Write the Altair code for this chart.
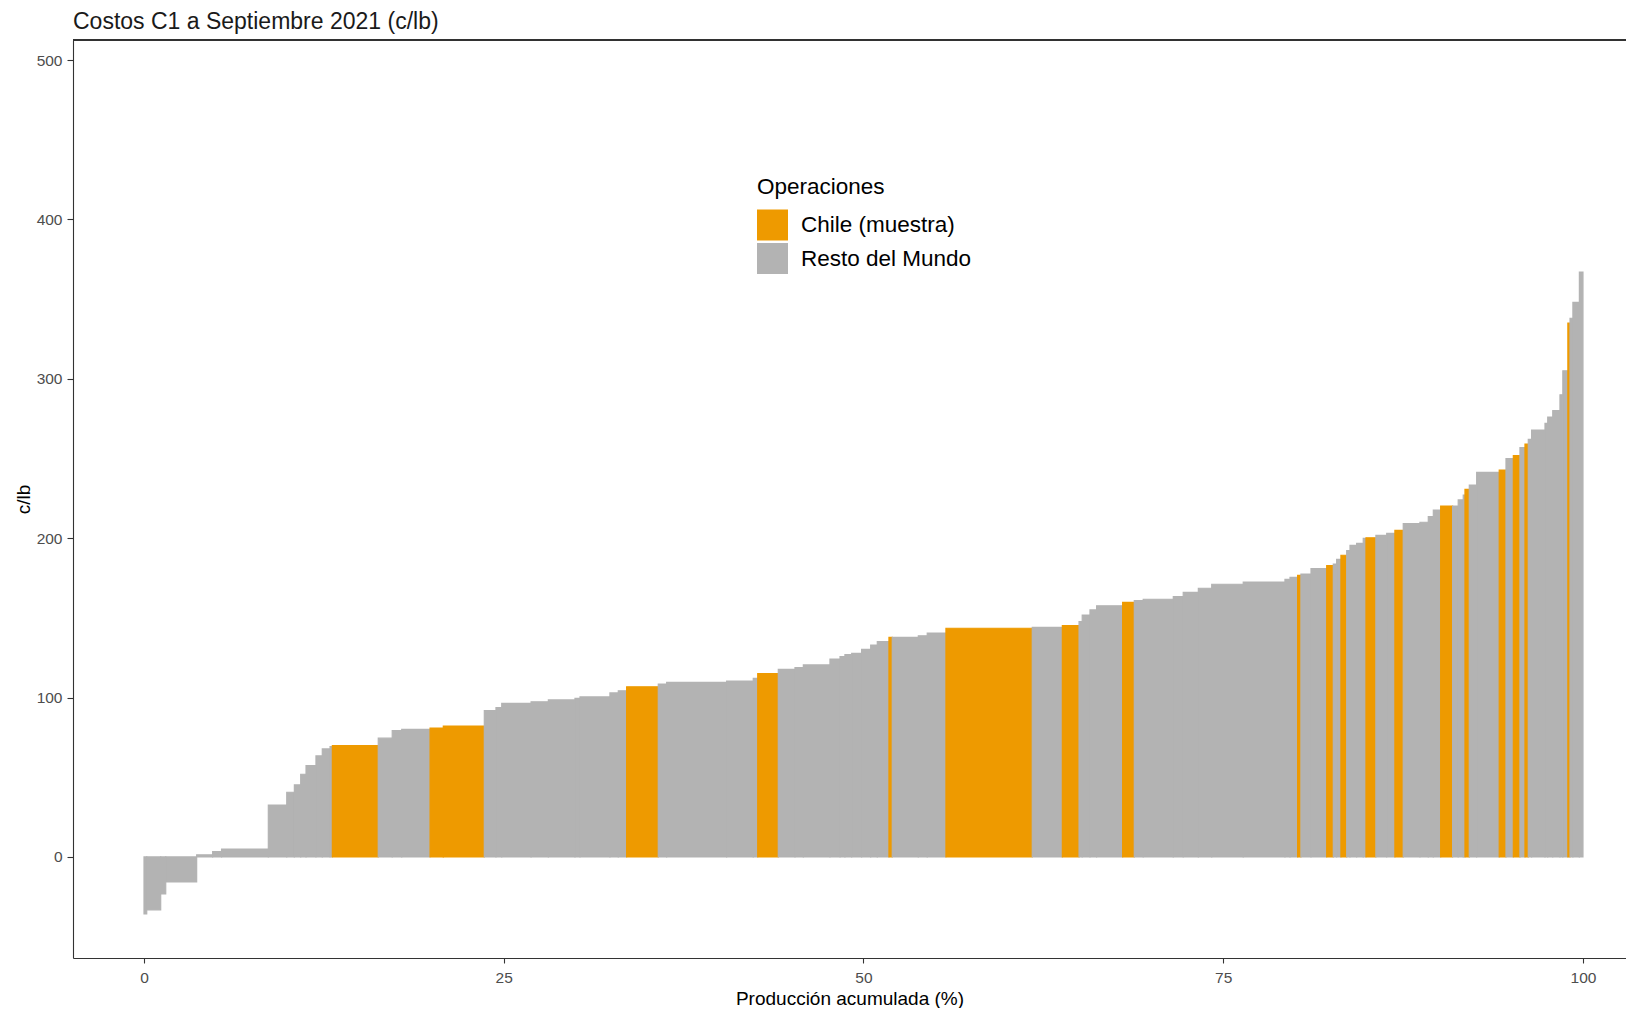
import altair as alt
import pandas as pd

# Cumulative production (%) at the right edge of each operation
cum_end = [0.19, 1.16, 1.51, 3.66, 4.77, 5.39, 8.64, 9.92, 10.45, 10.89,
           11.26, 11.95, 12.39, 12.93, 13.09, 16.28, 17.25, 17.91, 19.88, 20.8,
           23.65, 24.46, 24.86, 26.9, 28.1, 29.95, 30.3, 32.38, 32.96, 33.54,
           35.74, 36.32, 40.49, 42.34, 42.65, 44.08, 45.24, 45.82, 47.67, 48.37,
           48.71, 49.18, 49.87, 50.5, 50.96, 51.77, 52.0, 53.81, 54.43, 55.73,
           61.73, 63.82, 64.98, 65.2, 65.74, 66.2, 68.01, 68.82, 69.44, 71.53,
           72.22, 73.27, 74.2, 76.39, 79.29, 79.64, 80.17, 80.4, 81.1, 82.19,
           82.65, 82.88, 83.18, 83.58, 83.81, 84.27, 84.73, 84.92, 85.61, 86.36,
           86.93, 87.51, 88.67, 89.25, 89.6, 90.11, 90.94, 91.33, 91.68, 91.8,
           92.1, 92.61, 94.18, 94.65, 95.16, 95.62, 95.97, 96.2, 96.43, 97.36,
           97.55, 97.9, 98.4, 98.6, 98.95, 99.1, 99.3, 99.75, 100.0]

# C1 cost (c/lb) of each operation
costs = [-35.8, -33.2, -23.2, -15.7, 1.3, 3.4, 5.0, 32.6, 40.6, 45.2,
         51.9, 57.3, 63.4, 67.8, 69.2, 69.8, 74.5, 79.3, 80.1, 80.9,
         82.1, 91.8, 93.7, 96.4, 97.4, 98.5, 99.5, 100.4, 102.9, 104.3,
         106.8, 108.5, 109.6, 110.4, 112.1, 115.0, 117.7, 118.8, 120.5, 124.2,
         125.7, 126.9, 127.8, 130.3, 133.0, 135.1, 137.8, 137.8, 138.8, 140.5,
         143.5, 144.1, 145.1, 147.6, 151.8, 155.0, 157.6, 159.8, 160.8, 161.7,
         163.3, 166.0, 168.6, 171.1, 172.5, 174.2, 175.4, 176.7, 177.5, 180.9,
         182.8, 183.8, 186.7, 189.3, 192.2, 195.5, 196.8, 199.9, 200.3, 201.8,
         203.0, 204.9, 209.1, 210.0, 213.5, 217.7, 220.2, 220.2, 224.0, 227.0,
         230.6, 233.4, 241.3, 242.8, 249.9, 251.8, 256.8, 259.1, 262.0, 267.9,
         272.0, 276.0, 280.0, 290.0, 305.0, 335.0, 338.0, 348.0, 367.0]

# 1 = Chile (muestra), 0 = Resto del Mundo
is_chile = [0, 0, 0, 0, 0, 0, 0, 0, 0, 0,
            0, 0, 0, 0, 0, 1, 0, 0, 0, 1,
            1, 0, 0, 0, 0, 0, 0, 0, 0, 0,
            1, 0, 0, 0, 0, 1, 0, 0, 0, 0,
            0, 0, 0, 0, 0, 0, 1, 0, 0, 0,
            1, 0, 1, 0, 0, 0, 0, 1, 0, 0,
            0, 0, 0, 0, 0, 0, 0, 1, 0, 0,
            1, 0, 0, 1, 0, 0, 0, 0, 1, 0,
            0, 1, 0, 0, 0, 0, 1, 0, 0, 0,
            1, 0, 0, 1, 0, 1, 0, 1, 0, 0,
            0, 0, 0, 0, 0, 1, 0, 0, 0]

group_names = ["Resto del Mundo", "Chile (muestra)"]
legend_order = ["Chile (muestra)", "Resto del Mundo"]
group_colors = ["#EE9A00", "#B3B3B3"]
x_ticks = [0, 25, 50, 75, 100]
y_ticks = [0, 100, 200, 300, 400, 500]

cum_start = [0.0] + cum_end[:-1]
df = pd.DataFrame({
    "x0": cum_start,
    "x1": cum_end,
    "cost": costs,
    "Operaciones": [group_names[f] for f in is_chile],
})

W, H = 1553, 918
FONT = "Liberation Sans, Arial, sans-serif"

xscale = alt.Scale(domain=[-4.934, 102.99], nice=False, zero=False)
yscale = alt.Scale(domain=[-63.4, 512.6], nice=False, zero=False)
cscale = alt.Scale(domain=legend_order, range=group_colors)

bars = alt.Chart(df).mark_rect(strokeWidth=1.2).encode(
    x=alt.X("x0:Q", scale=xscale,
            axis=alt.Axis(title="Producción acumulada (%)", values=x_ticks,
                          tickSize=5, labelPadding=7, titlePadding=4)),
    x2="x1:Q",
    y=alt.Y("cost:Q", scale=yscale,
            axis=alt.Axis(title="c/lb", values=y_ticks, tickSize=6,
                          labelPadding=5, titlePadding=3)),
    y2=alt.datum(0),
    color=alt.Color("Operaciones:N", scale=cscale,
                    legend=alt.Legend(orient="none", legendX=684, legendY=136,
                                      symbolType="square", symbolSize=961,
                                      symbolStrokeWidth=0, rowPadding=2.5,
                                      labelOffset=13, titlePadding=11,
                                      labelLimit=0, padding=0)),
    stroke=alt.Stroke("Operaciones:N", scale=cscale, legend=None),
)

top_border = alt.Chart(df).mark_rule(color="#333333", strokeWidth=1.1).encode(
    x=alt.value(0), x2=alt.value(W), y=alt.value(0)
)

chart = alt.layer(bars, top_border).properties(
    width=W, height=H,
    padding={"left": 65, "top": 32, "right": 0, "bottom": 50},
    autosize=alt.AutoSizeParams(type="none"),
    title=alt.Title("Costos C1 a Septiembre 2021 (c/lb)", anchor="start",
                    frame="group", fontSize=23, fontWeight="normal", font=FONT,
                    color="#1a1a1a", offset=5),
).configure_view(stroke=None).configure_axis(
    grid=False, domainColor="#333333", domainWidth=1.1,
    tickColor="#333333", tickWidth=1.1,
    labelFont=FONT, labelFontSize=15.5, labelColor="#4D4D4D",
    titleFont=FONT, titleFontSize=19, titleFontWeight="normal", titleColor="#000000",
).configure_legend(
    titleFont=FONT, titleFontSize=22.5, titleFontWeight="normal", titleColor="#000000",
    labelFont=FONT, labelFontSize=22.5, labelColor="#000000",
)

chart.save("out.html", embed_options={"renderer": "svg", "actions": False})
